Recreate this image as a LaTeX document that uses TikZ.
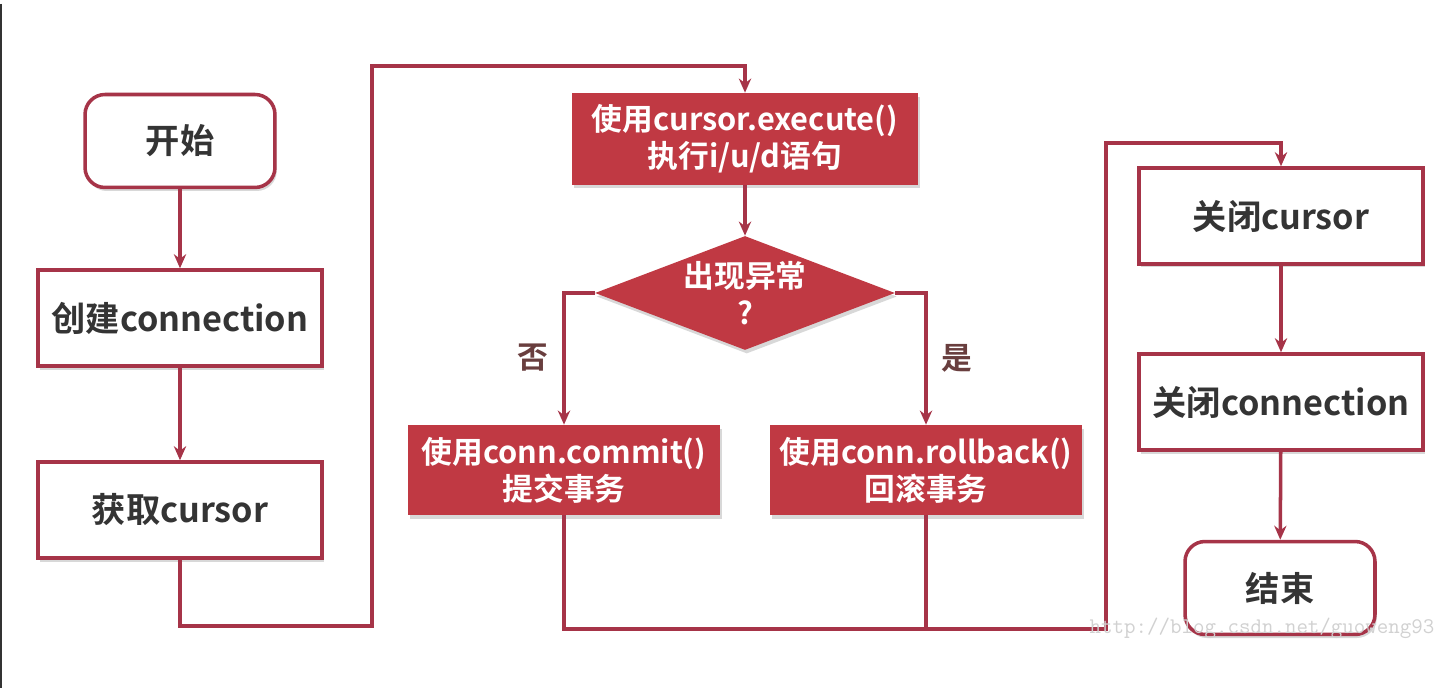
\documentclass[tikz,border=0pt]{standalone}
\usepackage{fontspec}
\setmainfont{Noto Sans CJK SC}[BoldFont={Noto Sans CJK SC Bold}]
\usetikzlibrary{calc,shapes.geometric,arrows.meta,shadows}
\definecolor{boxred}{RGB}{192,57,67}
\definecolor{linered}{RGB}{166,52,72}
\definecolor{txtgray}{RGB}{52,52,52}
\definecolor{lblgray}{RGB}{105,62,62}
\newcommand{\fnt}{\fontsize{19.5}{24}\selectfont\bfseries}
\newcommand{\rfnt}{\fontsize{17.5}{21}\selectfont\bfseries}
\tikzset{
	boxshadow/.style={drop shadow={shadow xshift=1pt, shadow yshift=-2pt, opacity=0.25, fill=black!60}},
	plainbox/.style={draw=linered, line width=2pt, fill=white, text=txtgray, font=\fnt, minimum width=5.68cm, minimum height=1.92cm, boxshadow},
	roundbox/.style={plainbox, rounded corners=0.4cm, minimum width=3.8cm, minimum height=1.86cm},
	redbox/.style={fill=boxred, text=white, font=\rfnt, align=center, minimum width=6.24cm, minimum height=1.8cm, boxshadow},
	condbox/.style={diamond, fill=boxred, inner sep=0pt, minimum width=6cm, minimum height=2.28cm, boxshadow},
	condtext/.style={text=white, font=\rfnt, align=center},
	branch/.style={text=lblgray, font=\rfnt},
	link/.style={draw=linered, line width=2pt},
	flow/.style={link, -{Stealth[length=8pt,width=7pt]}}
}

\begin{document}
\begin{tikzpicture}[x=0.02cm, y=-0.02cm]
			%%%%% START %%%%%
			\useasboundingbox (0,0) rectangle (1446,688);
			\fill[white] (0,0) rectangle (1446,688);
			\draw[black!80, line width=1pt] (1,4) -- (1,688);
			
			% left column
			\node[roundbox] (start) at (180,141) {开始};
			\node[plainbox] (conn) at (180,318) {创建connection};
			\node[plainbox] (cur) at (180,510) {获取cursor};
			
			% middle part
			\node[redbox, minimum width=6.92cm, minimum height=1.84cm] (exec) at (745,139) {使用cursor.execute()\\执行i/u/d语句};
			\node[condbox] (cond) at (745,293) {};
			\node[condtext] (condlbl) at (cond.center) {出现异常\\?};
			\node[redbox] (commit) at (564,470) {使用conn.commit()\\提交事务};
			\node[redbox] (rollback) at (926,470) {使用conn.rollback()\\回滚事务};
			\node[branch] (no) at (533,358) {否};
			\node[branch] (yes) at (957,358) {是};
			
			% right column
			\node[plainbox] (ccur) at (1281,216) {关闭cursor};
			\node[plainbox] (cconn) at (1281,402) {关闭connection};
			\node[roundbox] (end) at (1280,588) {结束};
			
			\coordinate (loopA) at (372,626);
			\coordinate (loopB) at (372,66);
			\coordinate (merge) at (1106,629);
			\coordinate (mergeup) at (1106,143);
			
			\draw[flow] (start) -- (conn);
			\draw[flow] (conn) -- (cur);
			\draw[flow] (cur.south) |- (loopA) -- (loopB) -| (exec.north);
			\draw[flow] (exec) -- (cond);
			\draw[flow] (cond.west) -| (commit.north);
			\draw[flow] (cond.east) -| (rollback.north);
			\draw[link] (rollback.south) -- (rollback.south |- merge);
			\draw[flow] (commit.south) |- (merge) -- (mergeup) -| (ccur.north);
			\draw[flow] (ccur) -- (cconn);
			\draw[flow] (cconn) -- (end);
			
			\node[text=black!18, font=\fontsize{12.7}{14}\selectfont\ttfamily] (mark) at (1262,628) {http://blog.csdn.net/guoweng93};
			
			%%%%% END %%%%%
		\end{tikzpicture}
\end{document}
